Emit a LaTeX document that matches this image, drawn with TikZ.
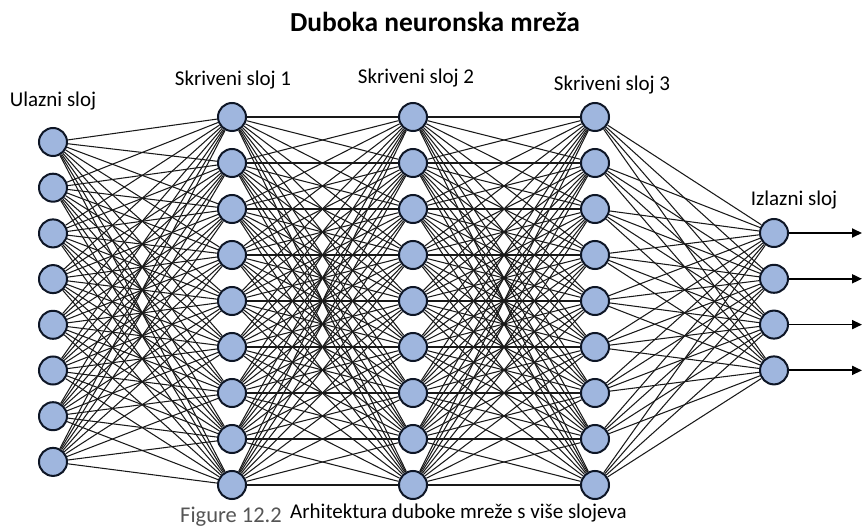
\documentclass[tikz,border=0pt]{standalone}
\usepackage{fontspec}
\setmainfont{Carlito}
\usetikzlibrary{arrows.meta,backgrounds}
\definecolor{nodefill}{HTML}{9FB6DE}
\definecolor{nodeline}{HTML}{0E1626}
\definecolor{capgray}{HTML}{555555}
\tikzset{
  neuron/.style={circle,draw=nodeline,line width=2pt,fill=nodefill,minimum size=28pt,inner sep=0pt},
  link/.style={draw=black!90,line width=1.05pt},
  outarrow/.style={draw=black,line width=1.8pt,-{Triangle[length=10pt,width=9pt]}},
  layerlabel/.style={font=\fontsize{21}{24}\selectfont,inner sep=0pt},
}
\begin{document}
\begin{tikzpicture}[x=1pt,y=-1pt]
\useasboundingbox (0,0) rectangle (862,526);
% title
\node[font=\fontsize{27.5}{30}\selectfont\bfseries,inner sep=0pt] (title) at (435,22) {Duboka neuronska mreža};
% layer labels
\node[layerlabel] (lin) at (53,101) {Ulazni sloj};
\node[layerlabel] (lh1) at (233,80) {Skriveni sloj 1};
\node[layerlabel] (lh2) at (416,78) {Skriveni sloj 2};
\node[layerlabel] (lh3) at (612,85) {Skriveni sloj 3};
\node[layerlabel] (lout) at (794,200) {Izlazni sloj};
% neurons
\foreach \k in {1,...,8} \node[neuron] (i\k) at (53,{142+45.7*(\k-1)}) {};
\foreach \k in {1,...,9} {
  \node[neuron] (a\k) at (232,{117+46*(\k-1)}) {};
  \node[neuron] (b\k) at (413,{117+46*(\k-1)}) {};
  \node[neuron] (c\k) at (595,{117+46*(\k-1)}) {};
}
\foreach \k in {1,...,4} \node[neuron] (o\k) at (774,{233+45.8*(\k-1)}) {};
% connections
\begin{scope}[on background layer]
\foreach \p in {1,...,8} \foreach \q in {1,...,9} \draw[link] (i\p) -- (a\q);
\foreach \p in {1,...,9} \foreach \q in {1,...,9} {
  \draw[link] (a\p) -- (b\q);
  \draw[link] (b\p) -- (c\q);
}
\foreach \p in {1,...,9} \foreach \q in {1,...,4} \draw[link] (c\p) -- (o\q);
\end{scope}
% outputs
\foreach \k in {1,...,4} {
  \coordinate (e\k) at (862,{233+45.8*(\k-1)});
  \draw[outarrow] (o\k) -- (e\k);
}
% caption
\node[font=\fontsize{22.5}{25}\selectfont,text=capgray,inner sep=0pt,anchor=base west] (fig) at (180,522) {Figure 12.2};
\node[font=\fontsize{21}{24}\selectfont,inner sep=0pt,anchor=base west] (cap) at (290,518.5) {Arhitektura duboke mreže s više slojeva};
\end{tikzpicture}
\end{document}
